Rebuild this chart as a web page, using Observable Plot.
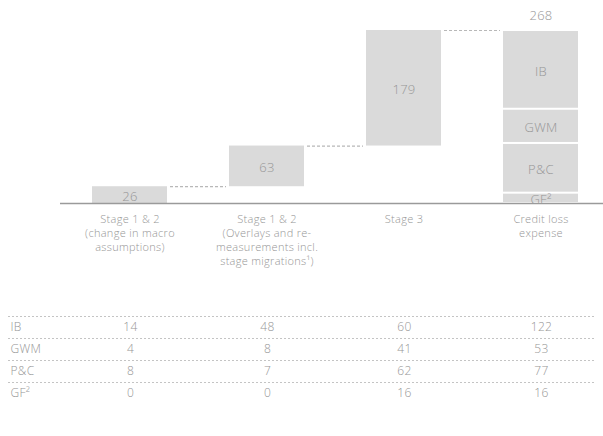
<!DOCTYPE html>
<html>
<head>
<meta charset="utf-8">
<script src="https://cdn.jsdelivr.net/npm/d3@7"></script>
<script src="https://cdn.jsdelivr.net/npm/@observablehq/plot@0.6"></script>
<style>
  body { margin: 0; background: #fff; }
  #chart { width: 603px; }
  #chart svg { display: block; }
</style>
</head>
<body>
<div id="chart"></div>
<script>
// Credit loss expense walk: contributions by stage, then the total split by business division
const categories = ["macro", "overlays", "stage3", "total"];
const categoryLabels = [
  "Stage 1 & 2\n(change in macro\nassumptions)",
  "Stage 1 & 2\n(Overlays and re-\nmeasurements incl.\nstage migrations¹)",
  "Stage 3",
  "Credit loss\nexpense"
];
const segments = ["IB", "GWM", "P&C", "GF²"];
const ib  = [14, 48, 60, 122];
const gwm = [4, 8, 41, 53];
const pc  = [8, 7, 62, 77];
const gf  = [0, 0, 16, 16];

const rowValues = {"IB": ib, "GWM": gwm, "P&C": pc, "GF²": gf};
const labelOf = new Map(categories.map((c, i) => [c, categoryLabels[i]]));

// floating steps: each stage adds its divisional sum on top of the previous ones
const steps = [];
let running = 0;
categories.slice(0, 3).forEach((c, i) => {
  const v = segments.reduce((s, k) => s + rowValues[k][i], 0);
  steps.push({cat: c, y1: running, y2: running + v, mid: running + v / 2, value: v});
  running += v;
});
const total = running;

// connectors from the top of one step to the next bar
const connectors = steps.map((s, i) => ({from: s.cat, to: categories[i + 1], y: s.y2}));

// total bar stacked bottom-up: GF², P&C, GWM, IB
const stack = [];
let base = 0;
[...segments].reverse().forEach(k => {
  const v = rowValues[k][3];
  stack.push({cat: "total", seg: k, y1: base, y2: base + v, mid: base + v / 2});
  base += v;
});

const font = "'Open Sans', Lato, 'DejaVu Sans', sans-serif";
const textGray = "#969696";
const barGray = "#dadada";
const xScale = {
  domain: categories,
  range: [61, 609],
  paddingInner: 0.4526,
  paddingOuter: 0.2263
};

const chart = Plot.plot({
  width: 603,
  height: 300,
  marginTop: 30,
  marginBottom: 97,
  marginLeft: 60,
  marginRight: 0,
  style: {fontFamily: font, fontSize: "13px", fontWeight: 300, color: textGray, background: "white", letterSpacing: "0.3px"},
  x: {...xScale, label: null},
  y: {domain: [0, total], axis: null},
  marks: [
    Plot.ruleY(connectors, {
      y: "y", x1: "from", x2: "to",
      insetLeft: 78, insetRight: 78,
      stroke: "#b8b8b8", strokeWidth: 1.2, strokeDasharray: "3,2"
    }),
    Plot.barY(steps, {x: "cat", y1: "y1", y2: "y2", fill: barGray}),
    Plot.barY(stack, {x: "cat", y1: "y1", y2: "y2", fill: barGray, insetTop: 1, insetBottom: 1}),
    Plot.text(steps, {x: "cat", y: "mid", text: "value", dy: 1.5, fill: textGray}),
    Plot.text(stack, {x: "cat", y: "mid", text: "seg", dy: 1.5, fill: textGray}),
    Plot.text([total], {x: () => "total", y: d => d, text: d => d, dy: -15, fill: textGray}),
    Plot.ruleY([0], {stroke: "#9a9a9a", strokeWidth: 1.5}),
    Plot.axisX({
      tickSize: 0,
      tickPadding: 9,
      lineAnchor: "top",
      lineHeight: 1.28,
      tickFormat: d => labelOf.get(d),
      fill: textGray,
      fontSize: 11,
      label: null
    })
  ]
});

// divisional breakdown table beneath the walk
const cells = segments.flatMap(k => categories.map((c, i) => ({row: k, cat: c, value: rowValues[k][i]})));

const table = Plot.plot({
  width: 603,
  height: 136,
  marginTop: 0,
  marginBottom: 0,
  marginLeft: 8,
  marginRight: 9,
  style: {fontFamily: font, fontSize: "12px", fontWeight: 300, color: textGray, background: "white", letterSpacing: "0.3px"},
  x: {...xScale, axis: null},
  y: {type: "point", domain: segments, range: [27, 93], padding: 0, axis: null},
  marks: [
    Plot.ruleY(segments, {y: d => d, dy: -11, stroke: "#c4c4c4", strokeWidth: 1, strokeDasharray: "2,2"}),
    Plot.text(segments, {y: d => d, frameAnchor: "left", textAnchor: "start", dx: 2, text: d => d, fill: textGray}),
    Plot.text(cells, {x: "cat", y: "row", text: "value", fill: textGray})
  ]
});

const root = document.getElementById("chart");
root.append(chart, table);
</script>
</body>
</html>
